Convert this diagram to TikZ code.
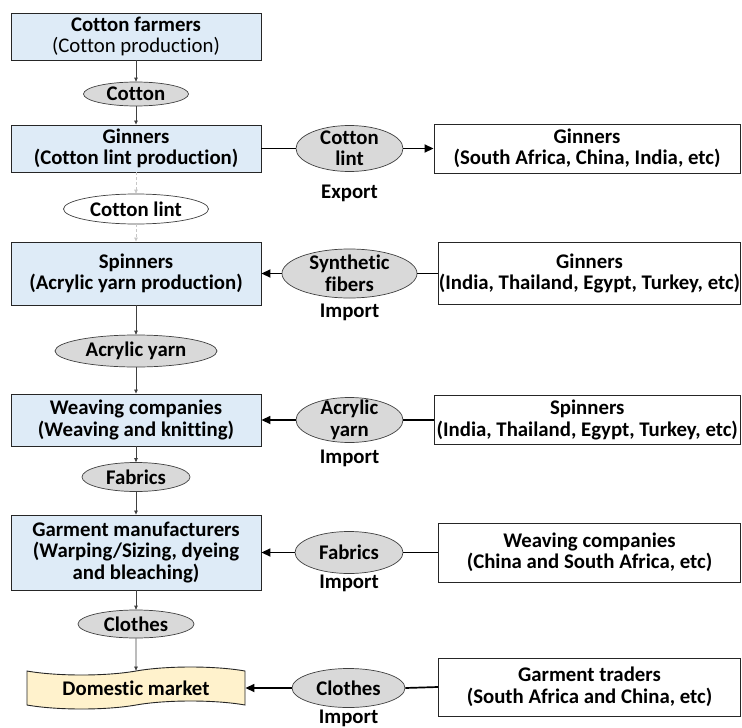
\documentclass[tikz,border=0pt]{standalone}
\usepackage{fontspec}
\setmainfont{Carlito}[Ligatures=NoCommon]
\usetikzlibrary{arrows.meta,shapes.geometric,shapes.symbols}
\definecolor{stageblue}{HTML}{DEEBF7}
\definecolor{flowgray}{HTML}{D9D9D9}
\definecolor{marketyellow}{HTML}{FFF2CC}
\begin{document}
\begin{tikzpicture}[x=1pt,y=-1pt,
  every node/.style={font=\fontsize{20.8}{21.5}\selectfont\bfseries, align=center, inner sep=0pt},
  stage/.style={draw=black!85, line width=0.9pt, fill=stageblue, minimum width=250pt},
  partner/.style={draw=black!85, line width=0.9pt, fill=white},
  flow/.style={ellipse, draw=black!75, line width=0.7pt, fill=flowgray},
  down/.style={-{Triangle[length=4pt,width=3.5pt]}, line width=0.7pt, draw=black!75},
  faint/.style={-{Triangle[length=4pt,width=3.5pt]}, line width=0.7pt, draw=black!22, dash pattern=on 3pt off 2pt},
  trade/.style={line width=1.7pt, draw=black},
  tradearrow/.style={trade, -{Triangle[length=9pt,width=8pt]}}
]
\useasboundingbox (0,0) rectangle (742,728);

% ---- domestic value chain (left column) ----
\node[stage, minimum height=47pt] (b1) at (136,36.5) {Cotton farmers\\\mdseries(Cotton production)};
\node[flow, minimum width=105pt, minimum height=24pt] (e1) at (136,94) {};
\node (e1t) at (e1) {Cotton};

\node[stage, minimum height=47pt] (b2) at (136,148.5) {Ginners\\(Cotton lint production)};
\node[flow, fill=white, minimum width=145pt, minimum height=30pt] (e2) at (136,209) {};
\node (e2t) at (e2) {Cotton lint};

\node[stage, minimum height=63pt] (b3) at (136,273.5) {Spinners\\(Acrylic yarn production)};
\node[flow, minimum width=162pt, minimum height=32pt] (e3) at (136,351) {};
\node (e3t) at (e3) {Acrylic yarn};

\node[stage, minimum height=52pt] (b4) at (136,420) {Weaving companies\\(Weaving and knitting)};
\node[flow, minimum width=108pt, minimum height=29pt] (e4) at (136,477) {};
\node (e4t) at (e4) {Fabrics};

\node[stage, minimum height=75pt] (b5) at (136,552.5) {Garment manufacturers\\(Warping/Sizing, dyeing\\and bleaching)};
\node[flow, minimum width=116pt, minimum height=28pt] (e5) at (136,624) {};
\node (e5t) at (e5) {Clothes};

\node[tape, draw=black!85, line width=0.9pt, fill=marketyellow, tape bend height=8pt,
      minimum width=218pt, minimum height=42pt] (dm) at (136,688) {Domestic market};

\draw[down] (b1) -- (e1);
\draw[down] (e1) -- (b2);
\draw[faint] (b2) -- (e2);
\draw[faint] (e2) -- (b3);
\draw[down] (b3) -- (e3);
\draw[down] (e3) -- (b4);
\draw[down] (b4) -- (e4);
\draw[down] (e4) -- (b5);
\draw[down] (b5) -- (e5);
\draw[down] (e5) -- (dm);

% ---- trade partners (right column) ----
\node[flow, minimum width=107pt, minimum height=46pt] (re1) at (349.5,148.5) {};
\node (re1t) at (re1) {Cotton\\lint};
\node (x1) at (349.5,193) {Export};
\node[partner, minimum width=306pt, minimum height=49pt] (r1) at (587,148.5) {Ginners\\(South Africa, China, India, etc)};

\node[flow, minimum width=135pt, minimum height=49pt] (re2) at (349.5,273.5) {};
\node (re2t) at (re2) {Synthetic\\fibers};
\node (i2) at (349.5,312) {Import};
\node[partner, minimum width=302pt, minimum height=62pt] (r2) at (589.5,273.5) {Ginners\\(India, Thailand, Egypt, Turkey, etc)};

\node[flow, minimum width=107pt, minimum height=45pt] (re3) at (349.5,420) {};
\node (re3t) at (re3) {Acrylic\\yarn};
\node (i3) at (349.5,458) {Import};
\node[partner, minimum width=306.5pt, minimum height=49pt] (r3) at (587.25,420) {Spinners\\(India, Thailand, Egypt, Turkey, etc)};

\node[flow, minimum width=108pt, minimum height=42pt] (re4) at (349,552.5) {};
\node (re4t) at (re4) {Fabrics};
\node (i4) at (349,583) {Import};
\node[partner, minimum width=302pt, minimum height=59pt] (r4) at (589.5,552.5) {Weaving companies\\(China and South Africa, etc)};

\node[flow, minimum width=113pt, minimum height=39pt] (re5) at (348.5,688) {};
\node (re5t) at (re5) {Clothes};
\node (i5) at (348.5,718) {Import};
\node[partner, minimum width=302pt, minimum height=58pt] (r5) at (589.5,687) {Garment traders\\(South Africa and China, etc)};

% export of cotton lint
\draw[trade] (b2.east) -- (re1.west);
\draw[tradearrow] (re1.east) -- (r1.west);
% imports
\draw[trade] (r2.west) -- (re2.east);
\draw[tradearrow] (re2.west) -- (b3.east);
\draw[trade] (r3.west) -- (re3.east);
\draw[tradearrow] (re3.west) -- (b4.east);
\draw[trade] (r4.west) -- (re4.east);
\draw[tradearrow] (re4.west) -- (b5.east);
\draw[trade] (r5.west) -- (re5.east);
\draw[tradearrow] (re5.west) -- (dm.east);
\end{tikzpicture}
\end{document}
